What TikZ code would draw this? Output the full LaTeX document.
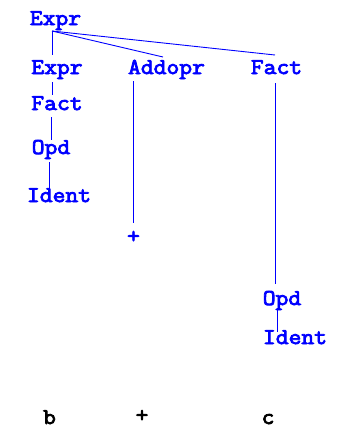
\documentclass[tikz,border=0pt]{standalone}
\usepackage{fontspec}
\newfontfamily\courfont[FakeBold=3.5,FakeStretch=1.1]{Latin Modern Mono}
\definecolor{tblue}{RGB}{0,0,255}
\begin{document}
\begin{tikzpicture}[x=1pt,y=-1pt,
  lbl/.style={inner sep=0pt,anchor=base,font=\fontsize{22.6}{26}\selectfont\courfont,text=tblue},
  leaf/.style={lbl,text=black},
  edge/.style={draw=tblue,line width=0.9pt}]
\useasboundingbox (0,0) rectangle (342,429);
% nodes
\node[lbl] (e0) at (55.5,25) {Expr};
\node[lbl] (e1) at (57,74) {Expr};
\node[lbl] (ad) at (166.5,74) {Addopr};
\node[lbl] (f1) at (276.5,74) {Fact};
\node[lbl] (f2) at (57,110) {Fact};
\node[lbl] (o1) at (51,154) {Opd};
\node[lbl] (i1) at (59,202) {Ident};
\node[lbl] (pl) at (133.5,243) {+};
\node[lbl] (o2) at (282,305) {Opd};
\node[lbl] (i2) at (295,344) {Ident};
\node[leaf] (b) at (49.5,424) {b};
\node[leaf] (p2) at (142,422) {+};
\node[leaf] (c) at (268,424) {c};
% connector end points
\coordinate (e0s) at (52,31);
\coordinate (e1t) at (52,55);
\coordinate (adt) at (163,57);
\coordinate (f1t) at (275,55);
\coordinate (e1b) at (52,82);
\coordinate (f2t) at (52,95);
\coordinate (f2b) at (51,117);
\coordinate (o1t) at (51,140);
\coordinate (o1b) at (49,162);
\coordinate (i1t) at (49,188);
\coordinate (adb) at (133,81);
\coordinate (plt) at (133,223);
\coordinate (f1b) at (275,83);
\coordinate (o2t) at (275,284);
\coordinate (o2b) at (277,308);
\coordinate (i2t) at (277,332);
% connectors
\draw[edge] (e0s) -- (e1t);
\draw[edge] (e0s) -- (adt);
\draw[edge] (e0s) -- (f1t);
\draw[edge] (e1b) -- (f2t);
\draw[edge] (f2b) -- (o1t);
\draw[edge] (o1b) -- (i1t);
\draw[edge] (adb) -- (plt);
\draw[edge] (f1b) -- (o2t);
\draw[edge] (o2b) -- (i2t);
\end{tikzpicture}
\end{document}
